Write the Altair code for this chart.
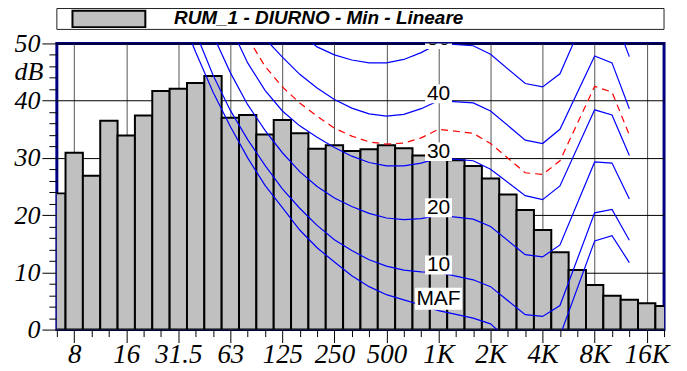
import altair as alt
import pandas as pd

# 1/3-octave bands, 6.3 Hz ... 20 kHz (index 0..35)
bands = ["6.3", "8", "10", "12.5", "16", "20", "25", "31.5", "40", "50", "63", "80",
         "100", "125", "160", "200", "250", "315", "400", "500", "630", "800", "1K",
         "1.25K", "1.6K", "2K", "2.5K", "3.15K", "4K", "5K", "6.3K", "8K", "10K",
         "12.5K", "16K", "20K"]
levels = [23.8, 30.9, 26.9, 36.5, 33.9, 37.4, 41.7, 42.1, 43.1, 44.3, 37.0, 37.5,
          34.1, 36.6, 34.3, 31.6, 32.2, 31.2, 31.5, 32.2, 31.7, 30.4, 29.7, 29.6,
          28.6, 26.4, 23.6, 20.9, 17.4, 13.5, 10.4, 7.8, 5.9, 5.2, 4.6, 4.1]
series_name = "RUM_1 - DIURNO - Min - Lineare"

# x tick labels (at octave bands)
tick_idx = [1, 4, 7, 10, 13, 16, 19, 22, 25, 28, 31, 34]
tick_labels = ["8", "16", "31.5", "63", "125", "250", "500", "1K", "2K", "4K", "8K", "16K"]

# equal-loudness contours: low part from start index to 1 kHz (index 22),
# high part at the band indices below
hf_idx = [24, 25, 27, 28, 29, 31, 32, 33]
maf_start = 7
maf_db = [56.0, 48.5, 41.5, 35.5, 30.0, 25.2, 21.3, 17.4, 14.3, 11.8, 9.4, 7.5, 6.1,
          5.2, 4.3, 3.3, 2.0, 1.0, -4.5, -5.0, -1.1, 15.5, 16.4, 11.7]
p10_start = 7
p10_db = [59.5, 51.9, 44.5, 38.3, 33.2, 28.7, 24.6, 21.2, 18.2, 15.7, 13.8, 12.2, 11.1,
          10.4, 10.1, 10.0, 8.7, 7.5, 2.6, 2.3, 4.2, 20.4, 21.0, 15.6]
p20_start = 8
p20_db = [58.5, 51.5, 44.9, 39.3, 34.8, 30.9, 27.6, 25.0, 23.0, 21.5, 20.3, 19.5, 19.2,
          19.4, 20.0, 19.3, 18.0, 13.1, 12.7, 14.8, 29.3, 29.1, 22.8]
p30_start = 9
p30_db = [60.0, 53.0, 46.6, 41.8, 38.2, 35.6, 33.6, 31.8, 30.3, 29.2, 28.6, 28.6, 29.1,
          30.0, 29.5, 28.0, 23.4, 22.7, 25.1, 38.4, 37.5, 30.4]
p35_start = 10
p35_db = [56.5, 51.0, 46.0, 42.4, 39.6, 37.3, 35.2, 33.8, 32.8, 32.4, 32.6, 33.5, 35.0,
          34.3, 32.5, 27.4, 27.1, 29.5, 42.5, 41.5, 34.0]
p40_start = 11
p40_db = [54.5, 50.85, 47.6, 44.6, 42.2, 40.2, 38.7, 37.7, 37.3, 37.6, 38.6, 40.0,
          39.6, 38.2, 33.1, 32.5, 35.0, 47.8, 46.6, 38.6]
p50_start = 13
p50_db = [54.0, 51.8, 49.4, 48.0, 47.1, 46.6, 46.6, 47.2, 48.4, 50.0,
          49.6, 48.1, 43.0, 42.4, 44.7, 58.5, 55.7, 47.7]

contour_names = ["MAF", "10", "20", "30", "40", "50"]
contour_label_db = [5.4, 11.3, 21.3, 31.1, 41.2, 50.7]
label_band = 22


def curve_rows(name, start, vals):
    idx = list(range(start, 23)) + hf_idx
    return [{"curve": name, "i": i, "db": v} for i, v in zip(idx, vals)]


blue_rows = (curve_rows("MAF", maf_start, maf_db) + curve_rows("10", p10_start, p10_db)
             + curve_rows("20", p20_start, p20_db) + curve_rows("30", p30_start, p30_db)
             + curve_rows("40", p40_start, p40_db) + curve_rows("50", p50_start, p50_db))
blue_df = pd.DataFrame(blue_rows)
red_df = pd.DataFrame(curve_rows("35", p35_start, p35_db))

bars_df = pd.DataFrame({"i": list(range(len(bands))), "band": bands, "db": levels})
bars_df["lo"] = bars_df["i"] - 0.5
bars_df["hi"] = bars_df["i"] + 0.5

lab_df = pd.DataFrame({"name": contour_names, "db": contour_label_db})
lab_df["i"] = label_band
num_df = lab_df[lab_df["name"] != "MAF"]
maf_df = lab_df[lab_df["name"] == "MAF"]

lab_arr = [""] * len(bands)
for k, t in zip(tick_idx, tick_labels):
    lab_arr[k] = t
label_expr = "[" + ",".join("'" + s + "'" for s in lab_arr) + "][datum.value]"

serif = "Liberation Serif"
sans = "Liberation Sans"

xscale = alt.Scale(domain=[0, len(bands) - 1], nice=False, zero=False)
yscale = alt.Scale(domain=[0, 50], nice=False, zero=False)

major_x = "datum.value % 3 === 1"
major_y = "datum.value % 10 === 0"

xaxis = alt.Axis(
    values=list(range(len(bands))), labelExpr=label_expr, title=None, domain=False,
    grid=True, gridColor="#555555", gridWidth=1,
    gridOpacity={"condition": {"test": major_x, "value": 1}, "value": 0},
    tickSize={"condition": {"test": major_x, "value": 13}, "value": 7},
    tickColor="black", tickWidth=1,
    labelFont=serif, labelFontStyle="italic", labelColor="black",
    labelFontSize={"condition": {"test": major_x, "value": 27}, "value": 0},
    labelPadding=-1, labelFlush=False, labelOverlap=False, labelBound=False,
)
yaxis = alt.Axis(
    values=list(range(0, 51, 2)),
    labelExpr="datum.value % 10 === 0 ? datum.label : ''",
    title="dB", titleAngle=0, titleX=-14, titleY=28, titleAlign="right",
    titleBaseline="middle", titleFont=serif, titleFontStyle="italic",
    titleFontWeight="normal", titleFontSize=26, titleColor="black",
    domain=False, grid=True, gridColor="black", gridWidth=1,
    gridOpacity={"condition": {"test": major_y, "value": 1}, "value": 0},
    tickSize={"condition": {"test": major_y, "value": 15}, "value": 8},
    tickColor="black", tickWidth=1,
    labelFont=serif, labelFontStyle="italic", labelColor="black",
    labelFontSize={"condition": {"test": major_y, "value": 26}, "value": 0},
    labelPadding=2, labelFlush=False, labelOverlap=False, labelBound=False,
)

X = lambda f: alt.X(f, scale=xscale, axis=xaxis)
Y = lambda f: alt.Y(f, scale=yscale, axis=yaxis)

bars = alt.Chart(bars_df).mark_rect(fill="#C0C0C0", stroke="black", strokeWidth=2,
                                    clip=True).encode(
    x=X("lo:Q"), x2="hi:Q", y=Y("db:Q"), y2=alt.datum(0))

blue = alt.Chart(blue_df).mark_line(color="#0000FF", strokeWidth=1.2, clip=True).encode(
    x=X("i:Q"), y=Y("db:Q"), detail="curve:N", order="i:Q")
red = alt.Chart(red_df).mark_line(color="#FF0000", strokeWidth=1.2, strokeDash=[7, 5],
                                  clip=True).encode(x=X("i:Q"), y=Y("db:Q"), order="i:Q")

num_box = alt.Chart(num_df).mark_rect(width=27, height=19, fill="white", clip=True).encode(
    x=X("i:Q"), y=Y("db:Q"))
maf_box = alt.Chart(maf_df).mark_rect(width=47, height=22, fill="white", clip=True).encode(
    x=X("i:Q"), y=Y("db:Q"))
labels = alt.Chart(lab_df).mark_text(font=sans, fontSize=21, color="black", clip=True,
                                     align="center", baseline="middle").encode(
    x=X("i:Q"), y=Y("db:Q"), text="name:N")

# legend box above the plot (drawn in the top margin)
leg_df = pd.DataFrame({"series": [series_name]})
leg_box = alt.Chart(leg_df).mark_rect(fill="white", stroke="#222222", strokeWidth=1).encode(
    x=alt.X(datum=0, scale=xscale, axis=xaxis), x2=alt.datum(35),
    y=alt.Y(datum=56.1, scale=yscale, axis=yaxis), y2=alt.datum(52.45))
leg_sw = alt.Chart(leg_df).mark_rect(fill="#C0C0C0", stroke="black", strokeWidth=2).encode(
    x=alt.X(datum=0.9, scale=xscale, axis=xaxis), x2=alt.datum(5.1),
    y=alt.Y(datum=55.7, scale=yscale, axis=yaxis), y2=alt.datum(52.85))
leg_tx = alt.Chart(leg_df).mark_text(font=sans, fontSize=19, fontWeight="bold",
                                     fontStyle="italic", color="black", align="left",
                                     baseline="middle").encode(
    x=alt.X(datum=6.75, scale=xscale, axis=xaxis),
    y=alt.Y(datum=54.5, scale=yscale, axis=yaxis), text="series:N")

chart = alt.layer(bars, blue, red, num_box, maf_box, labels, leg_box, leg_sw, leg_tx).properties(
    width=609, height=287,
    autosize=alt.AutoSizeParams(type="none"),
    padding={"left": 49, "top": 35, "right": 15, "bottom": 40},
).configure_view(stroke="#000080", strokeWidth=3)

chart.save("out.html", embed_options={"renderer": "svg", "actions": False})
